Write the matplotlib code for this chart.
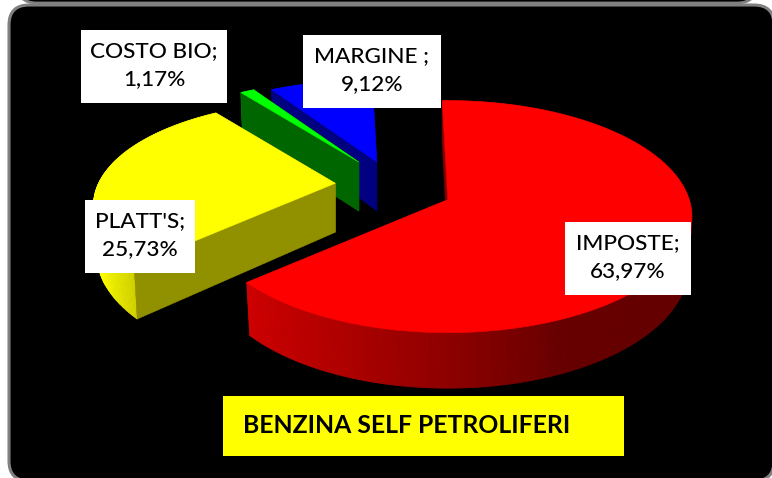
import numpy as np
import matplotlib
matplotlib.use("Agg")
import matplotlib.pyplot as plt
from matplotlib.patches import FancyBboxPatch, Rectangle, Polygon
from matplotlib.collections import PolyCollection

# --- data (clockwise from 12 o'clock) ---
categories = ["IMPOSTE", "PLATT'S", "COSTO BIO", "MARGINE "]
values = [63.97, 25.73, 1.17, 9.12]
title_text = "BENZINA SELF PETROLIFERI"

# --- style ---
colors = [(1, 0, 0), (1, 1, 0), (0, 1, 0), (0, 0, 1)]
cut_shade = [0.50, 0.57, 0.40, 0.50]
explode = [62, 56, 54, 46]
top_trim = [0.0, 0.12, 0.13, 0.13]
label_boxes = [(565, 222, 691, 295), (85, 200, 195, 273), (81, 30, 227, 103), (303, 35, 441, 108)]

CX, CY, YS = 391, 186, 0.55
A, B, K = 241.4, 113.5, 0.1466
DEPTH = 49
ROT = -1.5
BOT = 0.985


def project(theta, trim):
    t = np.radians(theta)
    X, Y = np.sin(t), -np.cos(t)
    w = 1 - K * Y
    s = 1 - trim * np.clip(0.55 - Y, 0, None) ** 2 / 1.82
    return A * X / w * s, B * Y / w * s, w


def shade(rel_x):
    return np.interp(rel_x, [-240, -197, 0, 120, 250], [1, 0.8, 0.56, 0.4, 0.4])


fig = plt.figure(figsize=(7.72, 4.78), dpi=100, facecolor="white")
ax = fig.add_axes([0, 0, 1, 1])
ax.set_xlim(0, 772)
ax.set_ylim(478, 0)
ax.axis("off")

# frame
ax.add_patch(FancyBboxPatch((37, -60), 700, 43, boxstyle="round,pad=20,rounding_size=20",
                            fc="black", ec="#808080", lw=2, zorder=1))
ax.add_patch(FancyBboxPatch((29, 25), 725, 436, boxstyle="round,pad=20,rounding_size=20",
                            fc="black", ec="#808080", lw=2.2, zorder=1))

edges = np.cumsum([0] + values) * 3.6 + ROT
draw_order = [3, 2, 1, 0]
z = 2
for i in draw_order:
    t0, t1 = edges[i], edges[i + 1]
    mid = np.radians((t0 + t1) / 2)
    ax_x = CX + explode[i] * np.sin(mid)
    ax_y = CY - explode[i] * np.cos(mid) * YS
    col = np.array(colors[i])
    th = np.linspace(t0, t1, max(12, int((t1 - t0) * 1.5)))
    rx, ry, w = project(th, top_trim[i])
    tx, ty = ax_x + rx, ax_y + ry
    bx, by = ax_x + rx * BOT, ax_y + ry * BOT + DEPTH / w
    cut = col * cut_shade[i]

    def cut_face(k, zorder):
        ax.add_patch(Polygon([(ax_x, ax_y), (tx[k], ty[k]), (bx[k], by[k]), (ax_x, ax_y + DEPTH)],
                             closed=True, fc=cut, ec=cut, lw=0.4, zorder=zorder))

    # far cut face, hidden by whatever comes next
    cut_face(-1, z)
    z += 1
    # outer rim with a horizontal gradient
    polys, fcs = [], []
    for j in range(len(th) - 1):
        polys.append([(tx[j], ty[j]), (tx[j + 1], ty[j + 1]), (bx[j + 1], by[j + 1]), (bx[j], by[j])])
        fcs.append(col * shade((rx[j] + rx[j + 1]) / 2))
    ax.add_collection(PolyCollection(polys, facecolors=fcs, edgecolors=fcs, linewidths=0.6, zorder=z))
    z += 1
    # near cut face
    cut_face(0, z)
    z += 1
    # top surface
    ax.add_patch(Polygon(np.column_stack([np.r_[ax_x, tx], np.r_[ax_y, ty]]), closed=True,
                         fc=col, ec=col, lw=0.4, zorder=z))
    z += 1

# data labels
for cat, val, (x0, y0, x1, y1) in zip(categories, values, label_boxes):
    ax.add_patch(Rectangle((x0, y0), x1 - x0, y1 - y0, fc="white", ec="none", zorder=50))
    ax.text((x0 + x1) / 2, (y0 + y1) / 2 - 1, f"{cat};\n{val:.2f}".replace(".", ",") + "%",
            ha="center", va="center", family="Lato", weight="medium", fontsize=16.2, color="black",
            linespacing=1.5, zorder=51)

# title box
ax.add_patch(Rectangle((223, 396), 401, 60, fc="#ffff00", ec="none", zorder=50))
ax.text(243, 433, title_text, ha="left", va="baseline", family="Lato", weight="bold",
        fontsize=17.8, color="black", zorder=51)

fig.savefig("out.png", dpi=100, facecolor="white")
